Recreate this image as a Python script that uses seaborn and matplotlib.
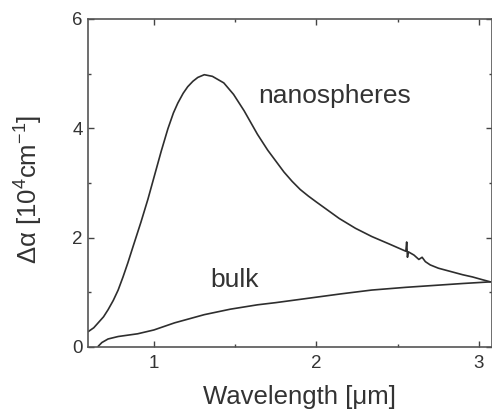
import pandas as pd
import seaborn as sns
import matplotlib.pyplot as plt
from matplotlib.ticker import MultipleLocator

# Values
nano_wavelength = [0.596, 0.63, 0.657, 0.69, 0.718, 0.75, 0.78, 0.81, 0.84, 0.87, 0.92,
                   0.963, 1.004, 1.045, 1.086, 1.12, 1.147, 1.18, 1.208, 1.24, 1.27,
                   1.31, 1.36, 1.43, 1.49, 1.555, 1.637, 1.70, 1.75, 1.80, 1.85, 1.90,
                   1.95, 2.00, 2.07, 2.14, 2.24, 2.34, 2.45, 2.55, 2.555, 2.56, 2.565,
                   2.60, 2.63, 2.65, 2.67, 2.70, 2.75, 2.80, 2.85, 2.90, 2.96, 3.02, 3.07]
nano_alpha = [0.28, 0.35, 0.44, 0.55, 0.68, 0.85, 1.04, 1.28, 1.54, 1.82, 2.28,
              2.70, 3.14, 3.58, 3.99, 4.28, 4.46, 4.64, 4.76, 4.86, 4.93,
              4.98, 4.95, 4.83, 4.62, 4.32, 3.89, 3.60, 3.40, 3.20, 3.03, 2.88,
              2.76, 2.65, 2.50, 2.35, 2.17, 2.02, 1.88, 1.75, 1.92, 1.64, 1.74,
              1.68, 1.60, 1.64, 1.56, 1.50, 1.44, 1.40, 1.36, 1.32, 1.28, 1.23, 1.19]

bulk_wavelength = [0.657, 0.68, 0.718, 0.78, 0.90, 1.00, 1.127, 1.31, 1.47, 1.637,
                   1.75, 2.00, 2.15, 2.34, 2.55, 2.75, 2.90, 3.07]
bulk_alpha = [0.01, 0.08, 0.145, 0.19, 0.24, 0.31, 0.44, 0.59, 0.69, 0.77,
              0.81, 0.91, 0.97, 1.04, 1.09, 1.13, 1.16, 1.19]

df_nano = pd.DataFrame({"wavelength": nano_wavelength, "alpha": nano_alpha})
df_bulk = pd.DataFrame({"wavelength": bulk_wavelength, "alpha": bulk_alpha})

sns.set_style("ticks")
plt.rcParams['font.family'] = ['Liberation Sans', 'DejaVu Sans']
plt.rcParams['mathtext.fontset'] = 'custom'
plt.rcParams['mathtext.rm'] = 'Liberation Sans'

fig = plt.figure(figsize=(4.92, 4.12), dpi=100)
ax = fig.add_axes([0.179, 0.158, 0.821, 0.796])

line_color = "#2e2e2e"
sns.lineplot(data=df_nano, x="wavelength", y="alpha", ax=ax, color=line_color,
             linewidth=1.2, sort=False, estimator=None)
sns.lineplot(data=df_bulk, x="wavelength", y="alpha", ax=ax, color=line_color,
             linewidth=1.2, sort=False, estimator=None)

ax.set_xlim(0.595, 3.08)
ax.set_ylim(0, 6)
ax.xaxis.set_major_locator(MultipleLocator(1))
ax.xaxis.set_minor_locator(MultipleLocator(0.5))
ax.yaxis.set_major_locator(MultipleLocator(2))
ax.yaxis.set_minor_locator(MultipleLocator(1))
ax.tick_params(which="both", direction="in", top=True, right=True,
               color="#444444", labelsize=13.5, labelcolor="#333333", width=1)
ax.tick_params(which="major", length=4.5)
ax.tick_params(which="minor", length=2.5)
ax.tick_params(axis="x", pad=6)
ax.tick_params(axis="y", pad=4)
for sp in ax.spines.values():
    sp.set_color("#555555")
    sp.set_linewidth(1.2)

ax.set_xlabel("Wavelength [μm]", fontsize=18.5, color="#333333")
ax.set_ylabel(r"Δα [10$^\mathregular{4}$cm$^\mathregular{-1}$]", fontsize=18.5, color="#333333")
ax.xaxis.set_label_coords(0.523, -0.115)
ax.yaxis.set_label_coords(-0.11, 0.479)

ax.text(1.644, 4.46, "nanospheres", fontsize=19, color="#333333", va="baseline")
ax.text(1.35, 1.10, "bulk", fontsize=19, color="#333333", va="baseline")

fig.savefig("out.png", dpi=100)
